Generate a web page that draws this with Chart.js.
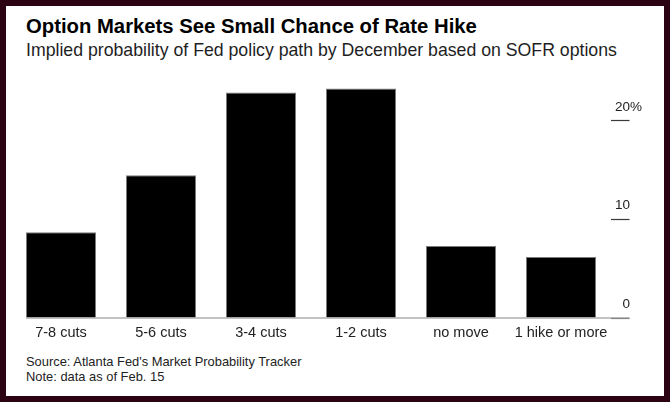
<!DOCTYPE html>
<html lang="en">
<head>
  <meta charset="UTF-8">
  <title>Option Markets See Small Chance of Rate Hike</title>
  <script src="https://cdn.jsdelivr.net/npm/chart.js"></script>
  <style>
    html, body { margin: 0; padding: 0; }
    body { width: 670px; height: 402px; background: #2b0313; position: relative; overflow: hidden;
           font-family: "Liberation Sans", Arial, Helvetica, sans-serif; }
    .card { position: absolute; left: 6px; top: 6px; width: 658px; height: 390px; background: #fff; }
    .title { position: absolute; left: 20px; top: 8.3px; font-size: 20.3px; line-height: 24px; font-weight: bold; color: #000; white-space: nowrap; }
    .subtitle { position: absolute; left: 20px; top: 34.1px; font-size: 17.7px; line-height: 21px; color: #1e1e1e; white-space: nowrap; }
    .footer { position: absolute; left: 20px; top: 349.4px; font-size: 12.9px; line-height: 14.6px; color: #222; white-space: nowrap; }
    #chartBox { position: absolute; left: 0; top: 64px; width: 658px; height: 280px; }
  </style>
</head>
<body>
  <div class="card">
    <div class="title">Option Markets See Small Chance of Rate Hike</div>
    <div class="subtitle">Implied probability of Fed policy path by December based on SOFR options</div>
    <div id="chartBox"><canvas id="myChart" width="658" height="280"></canvas></div>
    <div class="footer">Source: Atlanta Fed's Market Probability Tracker<br>Note: data as of Feb. 15</div>
  </div>
  <script>
    // datos
    const categories = ['7-8 cuts', '5-6 cuts', '3-4 cuts', '1-2 cuts', 'no move', '1 hike or more'];
    const probabilities = [8.7, 14.5, 22.9, 23.3, 7.3, 6.2];
    const yTickValues = [0, 10, 20];
    const yTickLabels = ['0', '10', '20'];

    const fontFamily = '"Liberation Sans", Arial, Helvetica, sans-serif';
    const yFontSize = 13.5;
    const tickLen = 18.5;
    const axisWidth = 19;      // los numeros quedan alineados a la derecha en scale.right
    const rightSpace = 53;     // espacio total a la derecha del area del grafico

    // linea base gris desde la primera barra hasta el final de las marcas
    const baselinePlugin = {
      id: 'baseline',
      afterDatasetsDraw(chart) {
        const meta = chart.getDatasetMeta(0);
        const first = meta.data[0];
        const y = chart.scales.y.getPixelForValue(0);
        const ctx = chart.ctx;
        ctx.save();
        ctx.strokeStyle = '#858585';
        ctx.lineWidth = 1.2;
        ctx.beginPath();
        ctx.moveTo(first.x - first.width / 2, y);
        ctx.lineTo(chart.chartArea.right + tickLen, y);
        ctx.stroke();
        ctx.restore();
      }
    };

    // el simbolo % que cuelga a la derecha del ultimo numero
    const percentPlugin = {
      id: 'percent',
      afterDraw(chart) {
        const ys = chart.scales.y;
        const top = yTickValues[yTickValues.length - 1];
        const ctx = chart.ctx;
        ctx.save();
        ctx.font = yFontSize + 'px ' + fontFamily;
        ctx.fillStyle = '#222';
        ctx.textAlign = 'left';
        ctx.textBaseline = 'middle';
        ctx.fillText('%', ys.right, ys.getPixelForValue(top) - 14);
        ctx.restore();
      }
    };

    new Chart(document.getElementById('myChart').getContext('2d'), {
      type: 'bar',
      data: {
        labels: categories,
        datasets: [{
          data: probabilities,
          backgroundColor: '#000',
          borderColor: '#7a7a7a',
          borderWidth: 1,
          borderSkipped: 'bottom',
          barPercentage: 0.7,
          categoryPercentage: 1.0
        }]
      },
      options: {
        responsive: false,
        animation: false,
        layout: { padding: { left: 5, right: rightSpace - axisWidth, top: 11.6, bottom: 0 } },
        plugins: {
          legend: { display: false },
          tooltip: { enabled: false }
        },
        scales: {
          x: {
            grid: { display: false, drawTicks: false },
            border: { display: false },
            ticks: {
              color: '#222',
              padding: 6,
              maxRotation: 0,
              autoSkip: false,
              font: { family: fontFamily, size: 14.5 }
            },
            afterFit(scale) { scale.height = 32; }
          },
          y: {
            position: 'right',
            min: 0,
            max: 24,
            afterBuildTicks(scale) { scale.ticks = yTickValues.map(v => ({ value: v })); },
            afterFit(scale) { scale.width = axisWidth; },
            grid: {
              drawOnChartArea: false,
              drawTicks: true,
              tickLength: tickLen,
              tickWidth: 1.2,
              tickColor: ctx => (ctx.tick && ctx.tick.value === 0) ? '#858585' : '#3a3a3a'
            },
            border: { display: false },
            ticks: {
              color: '#222',
              crossAlign: 'far',
              padding: 0,
              labelOffset: -14,
              font: { family: fontFamily, size: yFontSize },
              callback: (v) => yTickLabels[yTickValues.indexOf(v)]
            }
          }
        }
      },
      plugins: [baselinePlugin, percentPlugin]
    });
  </script>
</body>
</html>
